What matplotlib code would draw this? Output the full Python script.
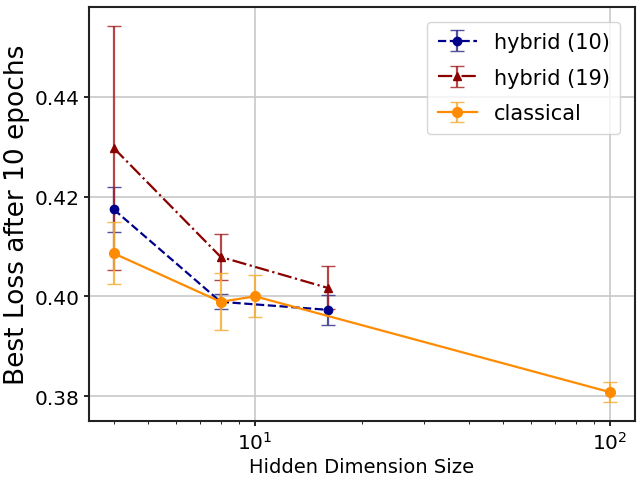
import matplotlib
matplotlib.use("Agg")
import matplotlib.pyplot as plt

h10_x = [4, 8, 16]
h10_y = [0.4174, 0.3989, 0.3973]
h10_err = [0.0045, 0.0015, 0.0030]

h19_x = [4, 8, 16]
h19_y = [0.4297, 0.4079, 0.4017]
h19_err = [0.0245, 0.0046, 0.0043]

cl_x = [4, 8, 10, 100]
cl_y = [0.4086, 0.3989, 0.4000, 0.3808]
cl_err = [0.0062, 0.0057, 0.0042, 0.0020]

fig = plt.figure(figsize=(6.38, 4.85), dpi=100)
ax = fig.add_axes([0.1395, 0.13, 0.8555, 0.8535])

ax.errorbar(h10_x, h10_y, yerr=h10_err, fmt='o--', color='#00008B', ecolor=(0.2, 0.2, 0.55, 0.85),
            capsize=5, markersize=6, linewidth=1.6, label='hybrid (10)')
ax.errorbar(h19_x, h19_y, yerr=h19_err, fmt='^-.', color='#8B0000', ecolor=(0.65, 0.15, 0.15, 0.85),
            capsize=5, markersize=6, linewidth=1.6, label='hybrid (19)')
ax.errorbar(cl_x, cl_y, yerr=cl_err, fmt='o-', color='#FF8C00', ecolor=(0.96, 0.68, 0.2, 0.85),
            capsize=5, markersize=7, linewidth=1.6, label='classical')

ax.set_xscale('log')
ax.set_yticks([0.38, 0.40, 0.42, 0.44])
ax.tick_params(labelsize=14.5, width=1.2)
for s in ax.spines.values():
    s.set_linewidth(1.5)
    s.set_color('#222222')
ax.grid(True, which='major', color='#c8c8c8', linewidth=1.2)
ax.set_xlabel('Hidden Dimension Size', fontsize=14, labelpad=3)
ax.set_ylabel('Best Loss after 10 epochs', fontsize=19, labelpad=3)
ax.legend(loc='upper right', fontsize=15, handlelength=1.9, borderaxespad=0.7,
          labelspacing=0.75, borderpad=0.5)

fig.savefig('out.png', dpi=100)
